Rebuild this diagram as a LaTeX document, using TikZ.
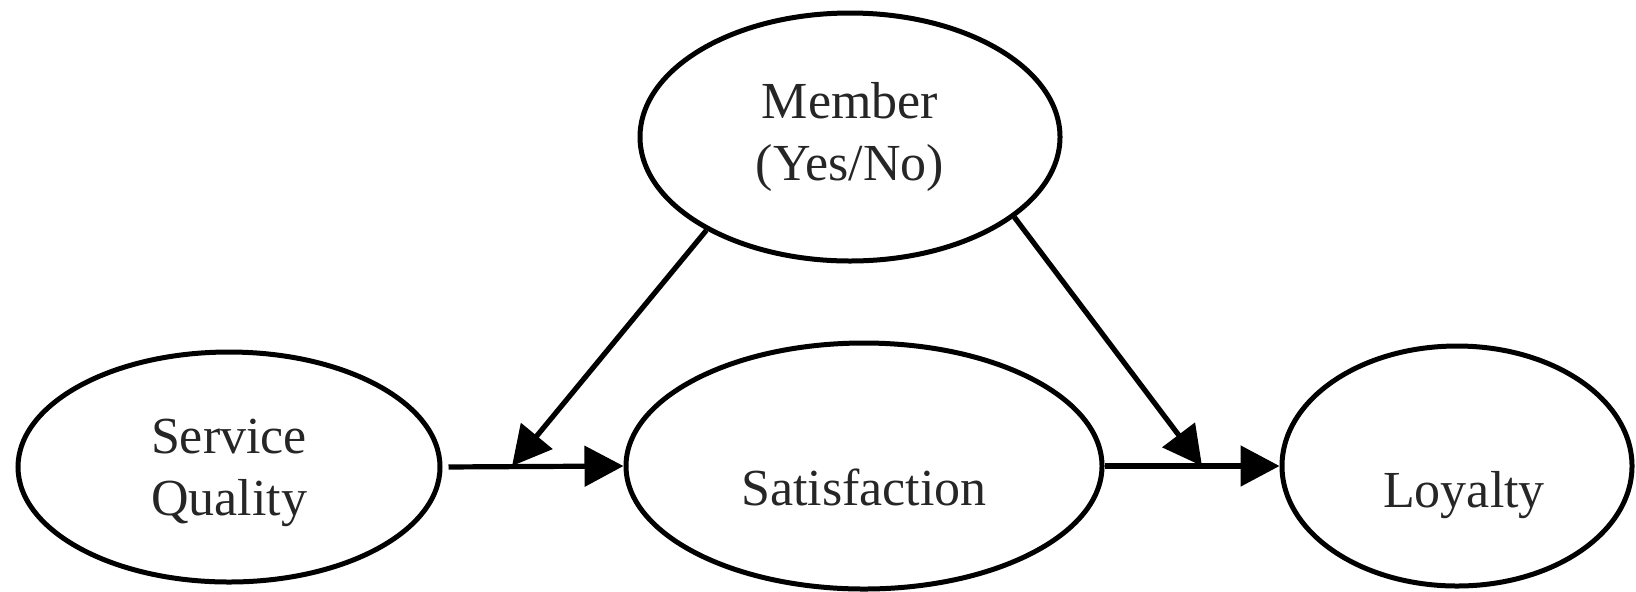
\documentclass[tikz,border=0pt]{standalone}
\usepackage{fontspec}
\setmainfont{Liberation Serif}
\usetikzlibrary{arrows.meta,shapes.geometric}
\begin{document}
\begin{tikzpicture}[x=0.5pt,y=-0.5pt,
  oval/.style={draw=black,line width=2.5pt,ellipse,inner sep=0pt},
  lbl/.style={text=black!85,font=\fontsize{26pt}{31pt}\selectfont,align=center,anchor=base,inner sep=0pt},
  conn/.style={line width=2.6pt,-{Triangle[length=19.5pt,width=20pt]}}]
\useasboundingbox (0,0) rectangle (1636,591);
\node[oval,minimum width=210pt,minimum height=124pt] (member) at (850,137) {};
\node[oval,minimum width=211pt,minimum height=115pt] (sq) at (229,467) {};
\node[oval,minimum width=238pt,minimum height=123pt] (sat) at (864,466) {};
\node[oval,minimum width=175pt,minimum height=120pt] (loy) at (1457,466) {};
\node[lbl] (tmember) at (850,180) {Member\\(Yes/No)};
\node[lbl] (tsq) at (229,515) {Service\\Quality};
\node[lbl] (tsat) at (864,505) {Satisfaction};
\node[lbl] (tloy) at (1464,507) {Loyalty};
\coordinate (m1) at (512,466);
\coordinate (m2) at (1202,466);
\draw[conn,shorten <=3pt] (sq.east) -- (sat.west);
\draw[conn] (sat.east) -- (loy.west);
\draw[conn] (member.213) -- (m1);
\draw[conn] (member.334) -- (m2);
\end{tikzpicture}
\end{document}
